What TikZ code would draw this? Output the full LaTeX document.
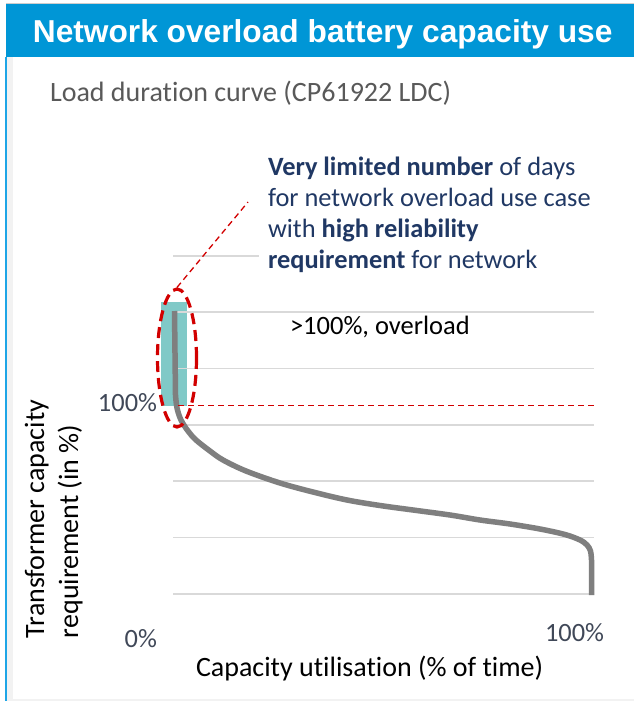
\documentclass[tikz,border=0pt]{standalone}
\usepackage{fontspec}
\setmainfont{Carlito}[Ligatures={NoCommon,NoRequired,NoContextual}]
\newfontfamily\hdrfont{Liberation Sans}
\usetikzlibrary{shapes.geometric}
\newcommand{\nolig}{\kern0pt{}}
\definecolor{hdrblue}{RGB}{0,150,214}
\definecolor{frameblue}{RGB}{30,165,230}
\definecolor{framegray}{RGB}{242,242,242}
\definecolor{topgray}{RGB}{205,205,205}
\definecolor{subgray}{RGB}{89,89,89}
\definecolor{navy}{RGB}{32,56,100}
\definecolor{axisgray}{RGB}{64,72,88}
\definecolor{tealbox}{RGB}{128,201,199}
\definecolor{gridgray}{RGB}{217,217,217}
\definecolor{curvegray}{RGB}{127,127,127}
\definecolor{darkred}{RGB}{210,0,0}
\tikzset{
  txt/.style={inner sep=0pt, outer sep=0pt},
  hdr/.style={txt, text=white, font=\hdrfont\bfseries\fontsize{31.7}{38}\selectfont},
  subt/.style={txt, text=subgray, font=\fontsize{28}{34}\selectfont},
  ann/.style={txt, text=navy, font=\fontsize{26.4}{31}\selectfont},
  plain/.style={txt, text=black, font=\fontsize{26.5}{32}\selectfont},
  axlab/.style={txt, text=axisgray, font=\fontsize{26.4}{32}\selectfont},
  axtitle/.style={txt, text=black, font=\fontsize{28}{34}\selectfont},
  grid line/.style={draw=gridgray, line width=1.2pt},
  ldc/.style={draw=curvegray, line width=5.5pt, line join=round},
  redthin/.style={draw=darkred, line width=1.6pt, dash pattern=on 6pt off 4pt},
  redthick/.style={draw=darkred, line width=3.2pt, dash pattern=on 11pt off 6pt},
}
\begin{document}
\begin{tikzpicture}[x=1pt,y=-1pt]
\useasboundingbox (0,0) rectangle (634,701);
\fill[white] (0,0) rectangle (634,701);
% frame
\fill[framegray] (7,57) rectangle (13,701);
\fill[framegray] (7,699) rectangle (634,701);
\fill[frameblue] (5,57) rectangle (7.3,701);
\draw[topgray, line width=0.8pt] (6,3.4) -- (634,3.4);
\fill[hdrblue] (6,4) rectangle (634,57);
\node[hdr, anchor=base] (title) at (322.7,43) {Network overload battery capacity use};
% subtitle
\node[subt, anchor=base west] (sub) at (50,101) {Load durat\nolig ion curve (CP61922 LDC)};
% teal highlight
\fill[tealbox] (161,302) rectangle (186.7,405.7);
% gridlines
\draw[grid line] (173,256) -- (259,256);
\foreach \yy in {312,368.5,425,481,537.5,594}{
  \draw[grid line] (173,\yy) -- (594,\yy);
}
% load duration curve
\draw[ldc] (174.5,311) -- (175.5,395)
  -- plot[smooth, tension=0.55] coordinates {(175.5,395) (177,408) (181,420) (188,431) (196,440) (210,451) (223,460) (246,471) (280,483) (313,492) (347,500) (380,505.5) (413,510) (450,515) (480,520) (510,524) (540,529) (565,534.5) (580,540) (587,545) (590.5,551) (591.5,560)}
  -- (591.5,595);
% 100% dashed line
\coordinate (hstart) at (178,405.5);
\coordinate (hend) at (597,405.5);
\draw[redthin] (hstart) -- (hend);
% dashed ellipse
\node[redthick, ellipse, minimum width=39pt, minimum height=138pt, inner sep=0pt] (hl) at (177,358) {};
\coordinate (lead) at (248,202);
\draw[redthin, line width=1.3pt] (hl.north) -- (lead);
% annotation
\node[ann, anchor=base west] (a1) at (268,175) {\textbf{Very limited number} of days};
\node[ann, anchor=base west] (a2) at (268,206) {for network overload use case};
\node[ann, anchor=base west] (a3) at (268,237) {with \textbf{high reliability}};
\node[ann, anchor=base west] (a4) at (268,268) {\textbf{requirement} for network};
\node[plain, anchor=base west] (over) at (290,334) {>100\%, overload};
% axis labels
\node[axlab, anchor=base east] (y100) at (157,411.5) {100\%};
\node[axlab, anchor=base east] (y0) at (157,647.5) {0\%};
\node[axlab, anchor=base west] (x100) at (545,641.5) {100\%};
\node[axtitle, anchor=base west] (xt) at (196,676) {Capacity utilisat\nolig ion (\% of time)};
\node[axtitle, anchor=base west, rotate=90] (yt1) at (44,638) {Transformer capacity};
\node[axtitle, anchor=base west, rotate=90] (yt2) at (78,638) {requirement (in \%)};
\end{tikzpicture}
\end{document}
